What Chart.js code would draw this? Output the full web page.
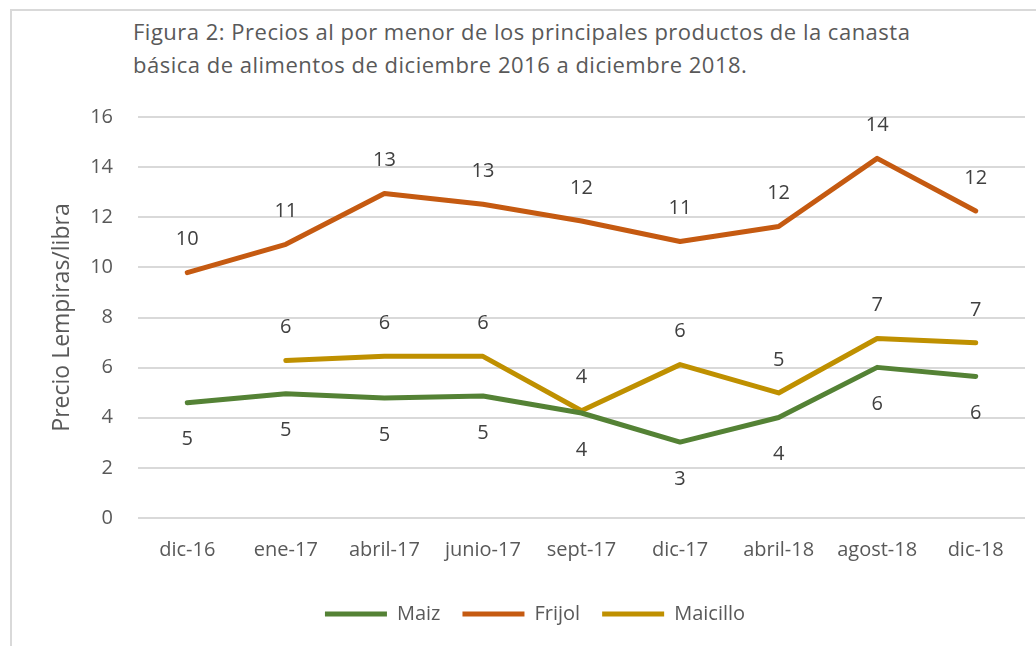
<!DOCTYPE html>
<html lang="es">
<head>
<meta charset="utf-8">
<title>Figura 2</title>
<script src="https://cdn.jsdelivr.net/npm/chart.js@4/dist/chart.umd.min.js"></script>
<style>
  html, body { margin: 0; padding: 0; background: #ffffff; }
  body { width: 1036px; height: 646px; position: relative; overflow: hidden; font-family: "Open Sans", sans-serif; }
  .frame { position: absolute; left: 10px; top: 9px; right: -4px; bottom: -4px; border-left: 2px solid #d9d9d9; border-top: 2px solid #d9d9d9; }
  .fig-title { position: absolute; left: 133px; top: 15px; font-size: 22px; line-height: 33px; color: #595959; letter-spacing: 0.5px; white-space: nowrap; }
  #chart { position: absolute; left: 0; top: 0; }
</style>
</head>
<body>
<div class="frame"></div>
<div class="fig-title">Figura 2: Precios al por menor de los principales productos de la canasta<br>básica de alimentos de diciembre 2016 a diciembre 2018.</div>
<canvas id="chart" width="1036" height="646"></canvas>
<script>
// fechas del eje x
const months = ['dic-16', 'ene-17', 'abril-17', 'junio-17', 'sept-17', 'dic-17', 'abril-18', 'agost-18', 'dic-18'];

// precios en Lempiras por libra
const maiz = [4.6, 4.96, 4.79, 4.87, 4.19, 3.03, 4.01, 6.01, 5.65];
const frijol = [9.79, 10.92, 12.95, 12.52, 11.85, 11.03, 11.63, 14.35, 12.25];
const maicillo = [null, 6.28, 6.45, 6.45, 4.28, 6.12, 4.99, 7.16, 6.99];

const yTicksMax = 16;
const yTicksStep = 2;

const textColor = '#595959';
const fontFamily = '"Open Sans", sans-serif';

// etiquetas de datos (arriba o abajo del punto)
const dataLabels = {
  id: 'dataLabels',
  afterDatasetsDraw(chart) {
    const ctx = chart.ctx;
    ctx.save();
    ctx.font = `20px ${fontFamily}`;
    ctx.fillStyle = '#404040';
    ctx.textAlign = 'center';
    ctx.textBaseline = 'middle';
    chart.data.datasets.forEach((dataset, i) => {
      const meta = chart.getDatasetMeta(i);
      meta.data.forEach((point, j) => {
        const value = dataset.data[j];
        if (value === null || value === undefined) return;
        const dy = dataset.labelPos === 'below' ? 37 : -33;
        ctx.fillText(String(Math.round(value)), point.x, point.y + dy);
      });
    });
    ctx.restore();
  },
};

function lineDataset(label, data, color, labelPos) {
  return {
    label,
    data,
    labelPos,
    borderColor: color,
    backgroundColor: color,
    borderWidth: 5,
    borderCapStyle: 'round',
    borderJoinStyle: 'round',
    pointRadius: 0,
    pointHoverRadius: 0,
    tension: 0,
    spanGaps: false,
    fill: false,
  };
}

new Chart(document.getElementById('chart'), {
  type: 'line',
  data: {
    labels: months,
    datasets: [
      lineDataset('Maiz', maiz, '#548235', 'below'),
      lineDataset('Frijol', frijol, '#c55a11', 'above'),
      lineDataset('Maicillo', maicillo, '#bf9000', 'above'),
    ],
  },
  options: {
    responsive: false,
    animation: false,
    devicePixelRatio: 1,
    layout: { padding: { left: 45, right: 11, top: 117, bottom: 12 } },
    plugins: {
      legend: {
        position: 'bottom',
        labels: {
          usePointStyle: true,
          pointStyle: 'line',
          pointStyleWidth: 62,
          boxHeight: 20,
          padding: 22,
          color: textColor,
          font: { family: fontFamily, size: 20 },
        },
      },
      tooltip: { enabled: false },
    },
    scales: {
      x: {
        offset: true,
        grid: { display: false, drawTicks: false },
        border: { display: false },
        ticks: { color: textColor, padding: 20, font: { family: fontFamily, size: 20 }, maxRotation: 0 },
      },
      y: {
        min: 0,
        max: yTicksMax,
        afterFit(scale) { scale.width = 93; },
        grid: { color: '#d9d9d9', lineWidth: 2, drawTicks: false },
        border: { display: false },
        ticks: { stepSize: yTicksStep, color: textColor, padding: 25, font: { family: fontFamily, size: 20 } },
        title: { display: true, text: 'Precio Lempiras/libra', color: textColor, font: { family: fontFamily, size: 23 } },
      },
    },
  },
  plugins: [dataLabels],
});
</script>
</body>
</html>
